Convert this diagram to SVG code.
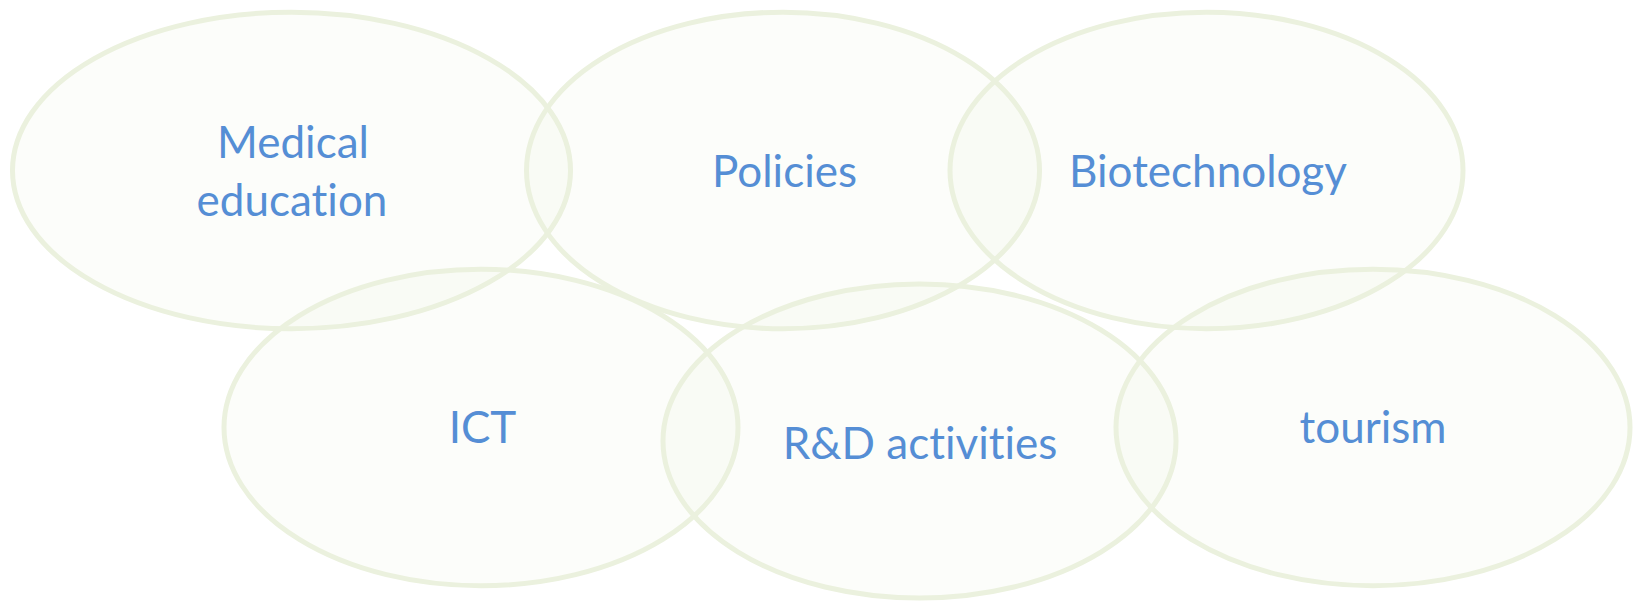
<svg xmlns="http://www.w3.org/2000/svg" width="1634" height="601" viewBox="0 0 1634 601">
<style>
.c{fill:#EBF1DE;fill-opacity:0.15;stroke:#EBF1DE;stroke-width:5}
.t{font-family:Lato,"Open Sans","Liberation Sans",sans-serif;font-size:44px;fill:#558ED5;text-anchor:middle;font-variant-ligatures:none;font-feature-settings:"liga" 0,"clig" 0}
</style>
<rect width="1634" height="601" fill="#FFFFFF"/>
<g id="medical-education">
<ellipse class="c" cx="291.5" cy="170.5" rx="279" ry="158.3"/>
<text class="t" x="293" y="158">Medical</text>
<text class="t" x="292" y="216">education</text>
</g>
<g id="policies">
<ellipse class="c" cx="783" cy="170.5" rx="256.5" ry="158.3"/>
<text class="t" x="784.5" y="187">Policies</text>
</g>
<g id="biotechnology">
<ellipse class="c" cx="1206.5" cy="170.5" rx="256.5" ry="158.3"/>
<text class="t" x="1208" y="187">Biotechnology</text>
</g>
<g id="ict">
<ellipse class="c" cx="481" cy="427.5" rx="257" ry="158.3"/>
<text class="t" x="482.5" y="443">ICT</text>
</g>
<g id="rd-activities">
<ellipse class="c" cx="919.5" cy="441" rx="256.5" ry="157"/>
<text class="t" x="920" y="459">R&amp;D activities</text>
</g>
<g id="tourism">
<ellipse class="c" cx="1373" cy="427.5" rx="257" ry="158.3"/>
<text class="t" x="1373" y="443">tourism</text>
</g>
<g id="connectors"/>
</svg>
